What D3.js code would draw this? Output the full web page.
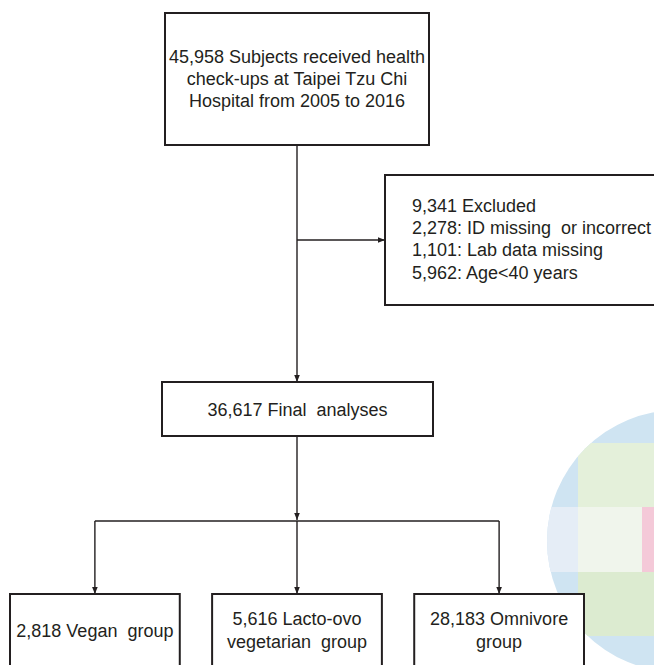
<!DOCTYPE html>
<html lang="en">
<head>
    <meta charset="utf-8"/>
    <title>Study flow</title>
    <style>
        body { margin: 0; background: #fff; }
        .box { fill: #fff; stroke: #231f20; stroke-width: 2px; }
        .link { fill: none; stroke: #231f20; stroke-width: 1.4px; }
        .label { font-family: "Liberation Sans", Arial, sans-serif; font-size: 18px; fill: #231f20; }
    </style>
</head>
<body>
<div class="viz"></div>
<script src="https://cdnjs.cloudflare.com/ajax/libs/d3/7.8.5/d3.min.js"></script>
<script>
    // --- data ---
    var startLines = ["45,958 Subjects received health", "check-ups at Taipei Tzu Chi", "Hospital from 2005 to 2016"];
    var excludedTotal = 9341;
    var excludedCounts = [2278, 1101, 5962];
    var excludedReasons = ["ID missing  or incorrect", "Lab data missing", "Age<40 years"];
    var finalCount = 36617;
    var groupCounts = [2818, 5616, 28183];
    var groupNames = [["Vegan  group"], ["Lacto-ovo", "vegetarian  group"], ["Omnivore", "group"]];

    var fmt = d3.format(",");
    var width = 654, height = 665;

    var svg = d3.select(".viz").append("svg")
        .attr("width", width)
        .attr("height", height);

    // faint pixel logo in the lower right corner
    var wm = svg.append("g").attr("class", "watermark");
    wm.append("clipPath").attr("id", "wmclip")
        .append("circle").attr("cx", 678).attr("cy", 541).attr("r", 131);
    var wg = wm.append("g").attr("clip-path", "url(#wmclip)");
    wg.append("rect").attr("x", 540).attr("y", 405).attr("width", 140).attr("height", 270).attr("fill", "#cfe4f2");
    wg.append("rect").attr("x", 546).attr("y", 507).attr("width", 32).attr("height", 65).attr("fill", "#e5edf6");
    wg.append("rect").attr("x", 578).attr("y", 443).attr("width", 90).attr("height", 64).attr("fill", "#e4f0da");
    wg.append("rect").attr("x", 578).attr("y", 507).attr("width", 90).attr("height", 65).attr("fill", "#f0f5ec");
    wg.append("rect").attr("x", 578).attr("y", 572).attr("width", 90).attr("height", 64).attr("fill", "#dcebd0");
    wg.append("rect").attr("x", 642).attr("y", 507).attr("width", 20).attr("height", 65).attr("fill", "#f4c9d8");

    svg.append("defs").append("marker")
        .attr("id", "arrow")
        .attr("markerUnits", "userSpaceOnUse")
        .attr("viewBox", "0 0 10 10")
        .attr("refX", 10).attr("refY", 5)
        .attr("markerWidth", 7).attr("markerHeight", 7)
        .attr("orient", "auto")
        .append("path")
        .attr("d", "M0,1L10,5L0,9Z")
        .attr("fill", "#231f20");

    var cx = 297;
    var startBox = {x: 165, y: 13, w: 264, h: 132};
    var exclBox = {x: 385, y: 175, w: 290, h: 130};
    var finBox = {x: 162, y: 382, w: 271, h: 54};
    var splitY = 521, groupTop = 594;

    var x = d3.scaleBand()
        .domain(groupCounts.map(function(d, i) { return i; }))
        .range([10, 584])
        .paddingInner(0.16);

    // connecting lines
    function link(pts, arrow) {
        svg.append("path")
            .attr("class", "link")
            .attr("d", d3.line()(pts))
            .attr("marker-end", arrow ? "url(#arrow)" : null);
    }
    link([[cx, startBox.y + startBox.h], [cx, finBox.y]], true);
    link([[cx, exclBox.y + exclBox.h / 2], [exclBox.x, exclBox.y + exclBox.h / 2]], true);
    link([[cx, finBox.y + finBox.h], [cx, splitY - 1]], true);
    link([[x(0) + x.bandwidth() / 2, splitY], [x(2) + x.bandwidth() / 2, splitY]], false);
    groupCounts.forEach(function(d, i) {
        var gx = x(i) + x.bandwidth() / 2;
        link([[gx, splitY], [gx, groupTop]], true);
    });

    function box(b) {
        svg.append("rect").attr("class", "box")
            .attr("x", b.x).attr("y", b.y).attr("width", b.w).attr("height", b.h);
    }
    function lines(arr, xpos, ycenter, gap, anchor) {
        var y0 = ycenter - (arr.length - 1) * gap / 2;
        svg.append("g").selectAll("text")
            .data(arr)
            .join("text")
            .attr("class", "label")
            .attr("xml:space", "preserve")
            .attr("text-anchor", anchor)
            .attr("x", xpos)
            .attr("y", function(d, i) { return y0 + i * gap; })
            .attr("dy", "0.35em")
            .text(function(d) { return d; });
    }

    box(startBox);
    lines(startLines, startBox.x + startBox.w / 2, startBox.y + startBox.h / 2, 22, "middle");

    box(exclBox);
    var exclText = [fmt(excludedTotal) + " Excluded"].concat(excludedCounts.map(function(d, i) {
        return fmt(d) + ": " + excludedReasons[i];
    }));
    lines(exclText, 412, 239, 22.3, "start");

    box(finBox);
    lines([fmt(finalCount) + " Final  analyses"], finBox.x + finBox.w / 2, finBox.y + finBox.h / 2 + 1, 22, "middle");

    groupCounts.forEach(function(d, i) {
        var b = {x: x(i), y: groupTop, w: x.bandwidth(), h: 100};
        box(b);
        var t = groupNames[i].slice();
        t[0] = fmt(d) + " " + t[0];
        lines(t, b.x + b.w / 2, 630.5, 23, "middle");
    });
</script>
</body>
</html>
